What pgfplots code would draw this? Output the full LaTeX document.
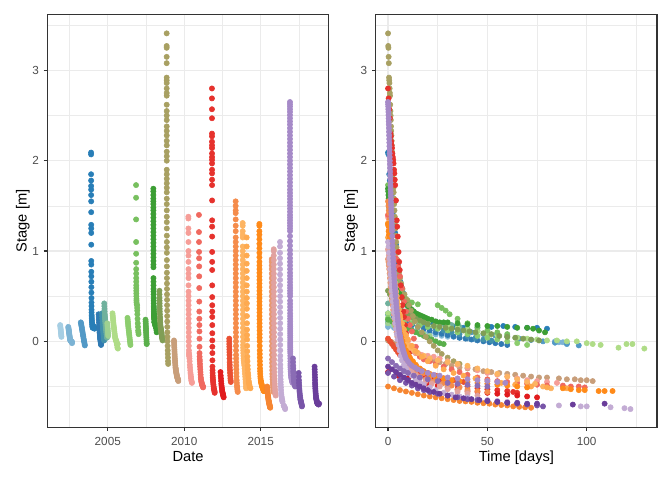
\documentclass[border=0pt]{standalone}
\usepackage{pgfplots}
\pgfplotsset{compat=1.18}
\usepackage{pgfplotstable}
\usepackage{fontspec}
\setmainfont{Liberation Sans}
\definecolor{gray20}{RGB}{51,51,51}
\definecolor{gray30}{RGB}{77,77,77}
\definecolor{gray92}{RGB}{235,235,235}
\definecolor{cA}{RGB}{166,206,227}
\definecolor{cB}{RGB}{124,179,212}
\definecolor{cC}{RGB}{82,153,198}
\definecolor{cD}{RGB}{40,126,183}
\definecolor{cE}{RGB}{48,122,178}
\definecolor{cF}{RGB}{66,145,170}
\definecolor{cG}{RGB}{112,177,157}
\definecolor{cH}{RGB}{158,209,144}
\definecolor{cI}{RGB}{175,220,135}
\definecolor{cJ}{RGB}{140,205,110}
\definecolor{cK}{RGB}{120,192,95}
\definecolor{cL}{RGB}{90,175,75}
\definecolor{cM}{RGB}{60,158,52}
\definecolor{cN}{RGB}{128,158,85}
\definecolor{cO}{RGB}{168,160,98}
\definecolor{cP}{RGB}{200,158,122}
\definecolor{cQ}{RGB}{246,158,152}
\definecolor{cR}{RGB}{240,105,95}
\definecolor{cS}{RGB}{230,50,45}
\definecolor{cT}{RGB}{225,28,30}
\definecolor{cU}{RGB}{234,80,50}
\definecolor{cV}{RGB}{245,140,75}
\definecolor{cW}{RGB}{253,180,98}
\definecolor{cWW}{RGB}{254,170,80}
\definecolor{cX}{RGB}{255,138,25}
\definecolor{cY}{RGB}{246,134,50}
\definecolor{cZ}{RGB}{232,152,112}
\definecolor{cAA}{RGB}{225,162,160}
\definecolor{cBB}{RGB}{195,172,212}
\definecolor{cCC}{RGB}{166,138,200}
\definecolor{cDD}{RGB}{138,108,180}
\definecolor{cEE}{RGB}{120,85,168}
\definecolor{cFF}{RGB}{106,61,154}
\pgfplotstableread{
t v
0 0.18
3 0.17
6 0.155
9 0.14
12 0.13
15 0.115
18 0.10
21 0.09
24 0.075
27 0.06
30 0.05
}\tA
\pgfplotstableread{
t v
0 0.16
3 0.15
6 0.14
9 0.13
12 0.12
15 0.11
18 0.10
21 0.09
24 0.08
27 0.07
30 0.06
33 0.05
36 0.04
40 0.03
44 0.02
48 0.01
52 0.005
84 0.0
86 -0.01
88 -0.01
90 -0.02
}\tB
\pgfplotstableread{
t v
0 0.21
6 0.195
12 0.18
18 0.165
24 0.15
30 0.13
36 0.115
42 0.10
48 0.08
54 0.065
60 0.05
66 0.03
72 0.015
78 0.0
84 -0.015
90 -0.03
96 -0.045
}\tC
\pgfplotstableread{
t v
0 2.09
0.2 2.07
0.6 1.85
0.9 1.78
1.2 1.72
1.5 1.68
1.8 1.62
2.1 1.55
2.5 1.43
3.0 1.29
3.3 1.25
3.6 1.20
4.0 1.07
4.6 0.89
4.9 0.85
5.3 0.77
5.7 0.72
6.2 0.66
6.8 0.60
7.5 0.54
8.3 0.48
9.2 0.43
10 0.39
11 0.35
12 0.32
13.5 0.29
15 0.27
17 0.25
19 0.23
22 0.21
25 0.19
29 0.17
33 0.16
38 0.15
45 0.15
52 0.16
58 0.17
64 0.16
70 0.15
75 0.15
80 0.14
}\tD
\pgfplotstableread{
t v
0 0.30
3 0.27
6 0.24
9 0.21
12 0.18
15 0.16
18 0.14
21 0.12
24 0.10
27 0.085
30 0.07
33 0.055
36 0.04
39 0.03
42 0.02
45 0.01
48 0.0
51 -0.01
54 -0.02
57 -0.03
60 -0.04
}\tE
\pgfplotstableread{
t v
0 0.31
4 0.28
8 0.25
12 0.22
16 0.19
20 0.16
24 0.14
28 0.12
32 0.10
36 0.08
40 0.06
44 0.04
48 0.02
52 0.01
}\tF
\pgfplotstableread{
t v
0 0.42
3 0.39
6 0.36
9 0.33
12 0.30
15 0.28
18 0.26
21 0.24
24 0.22
28 0.20
32 0.18
36 0.16
40 0.14
45 0.12
50 0.10
55 0.08
60 0.06
65 0.04
}\tG
\pgfplotstableread{
t v
0 0.20
3 0.18
6 0.16
9 0.14
12 0.12
15 0.10
18 0.08
21 0.06
}\tH
\pgfplotstableread{
t v
0 0.31
4 0.29
8 0.27
12 0.25
16 0.23
20 0.21
25 0.19
30 0.17
35 0.15
40 0.13
45 0.11
50 0.09
55 0.07
60 0.05
65 0.04
70 0.03
75 0.02
80 0.01
85 0.01
90 0.0
95 0.0
100 -0.02
103 -0.03
107 -0.04
116 -0.07
120 -0.03
123 -0.03
129 -0.08
}\tI
\pgfplotstableread{
t v
0 0.26
4 0.24
8 0.22
12 0.20
16 0.18
20 0.16
25 0.14
30 0.12
35 0.10
40 0.08
45 0.06
50 0.04
55 0.02
60 0.0
65 -0.02
70 -0.04
}\tJ
\pgfplotstableread{
t v
0 1.73
0.5 1.59
1 1.35
1.6 1.10
2 0.97
2.5 0.87
3 0.80
3.5 0.75
4 0.70
4.5 0.66
5 0.62
5.5 0.59
6 0.56
7 0.53
8 0.50
9 0.47
10 0.45
12 0.43
15 0.41
25 0.40
27 0.37
29 0.34
31 0.30
35 0.25
40 0.20
45 0.16
50 0.12
55 0.10
60 0.08
}\tK
\pgfplotstableread{
t v
0 0.24
2 0.22
4 0.20
6 0.18
8 0.16
10 0.14
12 0.12
14 0.10
16 0.08
18 0.06
20 0.04
22 0.02
24 0.0
26 -0.02
28 -0.03
}\tL
\pgfplotstableread{
t v
0 1.69
0.1 1.66
0.2 1.62
0.3 1.58
0.4 1.55
0.5 1.52
0.6 1.48
0.7 1.45
0.8 1.41
0.9 1.37
1.0 1.33
1.1 1.29
1.2 1.25
1.3 1.21
1.4 1.17
1.5 1.13
1.6 1.09
1.7 1.05
1.8 1.01
1.9 0.97
2.0 0.93
2.1 0.89
2.2 0.85
2.3 0.82
2.6 0.70
3 0.66
3.5 0.62
4 0.58
5 0.55
6 0.52
7 0.48
8 0.45
9 0.42
10 0.39
11 0.37
12 0.35
13 0.33
14 0.31
15 0.30
16 0.29
17 0.28
18 0.27
19 0.26
20 0.25
22 0.24
24 0.22
26 0.21
28 0.21
30 0.21
35 0.20
40 0.19
45 0.18
50 0.17
55 0.17
60 0.16
65 0.15
70 0.15
73 0.14
76 0.12
79 0.10
}\tM
\pgfplotstableread{
t v
0 0.56
1 0.52
2 0.48
3 0.45
4 0.42
5 0.39
6 0.36
8 0.33
10 0.30
12 0.27
14 0.25
16 0.23
18 0.21
20 0.19
23 0.17
26 0.16
29 0.15
32 0.14
35 0.13
38 0.12
41 0.11
44 0.10
48 0.09
52 0.08
56 0.06
60 0.05
64 0.04
68 0.03
72 0.02
76 0.01
}\tN
\pgfplotstableread{
t v
0 3.41
0.1 3.27
0.2 3.25
0.3 3.15
0.4 3.08
0.5 2.92
0.6 2.89
0.7 2.86
0.8 2.80
0.9 2.75
1.0 2.72
1.1 2.62
1.2 2.55
1.3 2.50
1.4 2.45
1.5 2.38
1.6 2.33
1.7 2.28
1.8 2.22
1.9 2.17
2.0 2.10
2.1 2.05
2.2 2.00
2.35 1.90
2.45 1.85
2.55 1.80
2.65 1.75
2.75 1.70
2.85 1.65
3.0 1.58
3.1 1.52
3.25 1.45
3.4 1.38
3.55 1.32
3.7 1.25
3.9 1.17
4.1 1.10
4.3 1.04
4.5 0.98
4.8 0.90
5.1 0.83
5.5 0.76
6.0 0.70
6.6 0.64
7.3 0.58
8.3 0.52
9.5 0.46
10.5 0.40
11.5 0.34
12.5 0.28
13.5 0.22
15 0.16
17 0.10
19 0.05
21 0.0
23 -0.05
25 -0.10
27 -0.14
30 -0.18
33 -0.22
36 -0.25
}\tO
\pgfplotstableread{
t v
0 0.01
2 -0.01
4 -0.03
6 -0.05
8 -0.07
10 -0.09
12 -0.11
14 -0.13
16 -0.15
18 -0.17
20 -0.19
23 -0.21
26 -0.23
29 -0.25
32 -0.27
36 -0.29
40 -0.30
44 -0.31
48 -0.33
52 -0.34
56 -0.35
60 -0.36
64 -0.37
68 -0.38
72 -0.39
76 -0.40
80 -0.40
86 -0.41
90 -0.42
94 -0.42
97 -0.43
100 -0.43
103 -0.44
}\tP
\pgfplotstableread{
t v
0 1.38
0.3 1.36
0.6 1.25
0.9 1.20
1.2 1.10
1.5 1.00
1.8 0.95
2.1 0.88
2.4 0.80
2.7 0.75
3.0 0.70
3.4 0.62
3.8 0.55
4.2 0.50
4.6 0.45
5.0 0.40
5.5 0.35
6.0 0.30
6.5 0.25
7.0 0.20
7.6 0.15
8.2 0.10
9.0 0.05
10 0.0
11 -0.05
12.5 -0.10
14 -0.13
17 -0.15
20 -0.16
23 -0.17
26 -0.19
30 -0.22
35 -0.26
40 -0.29
45 -0.32
50 -0.35
55 -0.37
60 -0.39
65 -0.41
70 -0.43
75 -0.44
80 -0.45
85 -0.46
}\tQ
\pgfplotstableread{
t v
0 1.40
1 1.21
2 1.10
3 0.99
4 0.92
5 0.83
6 0.72
7 0.59
8 0.44
9 0.33
10 0.25
11 0.18
12 0.11
13 0.03
14 -0.06
15 -0.13
16 -0.17
18 -0.20
21 -0.22
24 -0.25
28 -0.28
32 -0.31
36 -0.34
40 -0.37
45 -0.40
50 -0.42
55 -0.44
60 -0.45
65 -0.46
70 -0.47
75 -0.48
80 -0.49
88 -0.49
92 -0.50
96 -0.50
99 -0.51
}\tR
\pgfplotstableread{
t v
0 2.80
0.3 2.69
0.6 2.57
0.9 2.47
1.2 2.30
1.4 2.27
1.6 2.21
1.8 2.17
2.0 2.14
2.2 2.08
2.4 2.04
2.6 2.01
2.8 1.97
3.0 1.90
3.2 1.86
3.4 1.79
3.6 1.73
4.0 1.56
4.4 1.34
4.6 1.27
4.9 1.16
5.3 0.99
5.6 0.88
5.9 0.79
6.4 0.62
6.9 0.49
7.3 0.40
7.7 0.33
8.0 0.27
8.5 0.18
9.0 0.09
9.5 0.01
10 -0.06
10.5 -0.13
11 -0.21
12 -0.28
14 -0.32
16 -0.35
18 -0.38
20 -0.40
23 -0.42
26 -0.44
30 -0.46
35 -0.48
40 -0.50
45 -0.52
50 -0.53
55 -0.54
60 -0.55
63 -0.56
65 -0.57
}\tS
\pgfplotstableread{
t v
0 -0.34
5 -0.38
10 -0.41
15 -0.44
20 -0.47
25 -0.49
30 -0.51
35 -0.53
40 -0.55
45 -0.56
50 -0.57
55 -0.58
60 -0.59
65 -0.60
70 -0.61
75 -0.62
}\tT
\pgfplotstableread{
t v
0 0.03
1 0.0
2 -0.03
3 -0.06
4 -0.09
5 -0.12
6 -0.15
8 -0.19
10 -0.23
12 -0.26
14 -0.29
17 -0.32
20 -0.35
24 -0.38
28 -0.41
33 -0.43
38 -0.45
}\tU
\pgfplotstableread{
t v
0 1.55
0.2 1.50
0.4 1.45
0.6 1.42
0.8 1.35
1.0 1.28
1.2 1.22
1.4 1.15
1.6 1.10
1.8 1.05
2.0 1.00
2.2 0.95
2.4 0.90
2.6 0.85
2.8 0.80
3.0 0.75
3.2 0.70
3.4 0.65
3.6 0.60
3.8 0.55
4.0 0.50
4.3 0.45
4.6 0.40
4.9 0.35
5.2 0.30
5.5 0.25
5.9 0.20
6.3 0.15
6.7 0.10
7.2 0.05
7.7 0.0
8.3 -0.05
9 -0.10
10 -0.15
11 -0.19
12.5 -0.23
14 -0.27
16 -0.31
18 -0.35
21 -0.39
24 -0.43
28 -0.46
32 -0.49
36 -0.51
40 -0.53
45 -0.55
50 -0.56
}\tV
\pgfplotstableread{
t v
0 1.31
0.25 1.28
0.5 1.22
0.75 1.18
1.0 1.15
1.25 1.05
1.5 1.00
1.75 0.95
2.0 0.90
2.3 0.85
2.6 0.80
2.9 0.75
3.2 0.70
3.5 0.65
3.8 0.60
4.1 0.55
4.4 0.50
4.7 0.45
5.0 0.40
5.4 0.35
5.8 0.30
6.2 0.25
6.7 0.20
7.2 0.15
7.8 0.10
8.4 0.05
9.0 0.0
10 -0.04
11 -0.07
13 -0.10
15 -0.13
18 -0.16
21 -0.19
25 -0.21
30 -0.23
35 -0.25
40 -0.27
45 -0.30
50 -0.33
55 -0.36
60 -0.39
65 -0.42
70 -0.45
74 -0.47
78 -0.50
82 -0.52
}\tW
\pgfplotstableread{
t v
0 1.15
0.5 1.05
1 0.95
1.5 0.86
2 0.78
2.5 0.70
3 0.62
3.5 0.55
4 0.48
4.5 0.42
5 0.36
6 0.28
7 0.20
8 0.13
9 0.07
10 0.02
12 -0.05
14 -0.11
17 -0.17
20 -0.22
24 -0.27
28 -0.31
33 -0.35
38 -0.38
44 -0.41
50 -0.44
57 -0.46
64 -0.48
72 -0.50
80 -0.51
90 -0.52
}\tWW
\pgfplotstableread{
t v
0 1.30
0.15 1.28
0.3 1.22
0.45 1.18
0.6 1.13
0.75 1.08
0.9 1.03
1.05 0.98
1.2 0.93
1.35 0.88
1.5 0.84
1.65 0.80
1.8 0.76
1.95 0.72
2.1 0.68
2.25 0.64
2.4 0.60
2.6 0.56
2.8 0.52
3.0 0.48
3.2 0.44
3.4 0.40
3.7 0.36
4.0 0.32
4.3 0.28
4.6 0.24
5.0 0.20
5.4 0.16
5.8 0.12
6.3 0.08
6.8 0.04
7.3 0.0
8 -0.05
9 -0.10
10 -0.14
11 -0.18
12.5 -0.22
14 -0.26
16 -0.30
18 -0.33
21 -0.36
24 -0.39
28 -0.41
32 -0.43
36 -0.44
40 -0.45
45 -0.46
50 -0.47
55 -0.48
60 -0.49
65 -0.50
70 -0.51
88 -0.52
92 -0.53
96 -0.54
99 -0.54
106 -0.55
109 -0.55
113 -0.55
}\tX
\pgfplotstableread{
t v
0 -0.50
3 -0.52
6 -0.54
9 -0.555
12 -0.57
15 -0.585
18 -0.60
21 -0.61
24 -0.62
27 -0.63
30 -0.64
33 -0.65
36 -0.66
39 -0.665
42 -0.67
45 -0.68
48 -0.685
51 -0.69
54 -0.70
57 -0.705
60 -0.71
63 -0.72
66 -0.725
69 -0.73
72 -0.735
}\tY
\pgfplotstableread{
t v
0 0.91
0.2 0.88
0.4 0.84
0.6 0.80
0.8 0.75
1.0 0.70
1.2 0.65
1.4 0.60
1.6 0.55
1.8 0.50
2.0 0.45
2.3 0.40
2.6 0.35
2.9 0.30
3.2 0.25
3.5 0.20
3.9 0.15
4.3 0.10
4.7 0.05
5.2 0.0
5.7 -0.05
6.3 -0.10
7 -0.15
8 -0.20
9 -0.24
10.5 -0.28
12 -0.32
14 -0.36
16 -0.39
19 -0.42
22 -0.45
26 -0.48
30 -0.51
35 -0.54
40 -0.56
}\tZ
\pgfplotstableread{
t v
0 1.02
0.2 1.00
0.4 0.95
0.6 0.90
0.8 0.85
1.0 0.80
1.2 0.75
1.4 0.70
1.6 0.65
1.8 0.60
2.0 0.55
2.2 0.50
2.5 0.45
2.8 0.40
3.1 0.35
3.4 0.30
3.7 0.25
4.0 0.20
4.4 0.15
4.8 0.10
5.2 0.05
5.7 0.0
6.2 -0.05
6.8 -0.10
7.5 -0.15
8.3 -0.20
9.2 -0.25
10.5 -0.30
12 -0.34
14 -0.38
16 -0.41
19 -0.44
22 -0.47
26 -0.50
30 -0.53
35 -0.56
40 -0.58
45 -0.60
}\tAA
\pgfplotstableread{
t v
0 1.10
0.3 1.05
0.5 0.98
0.7 0.92
0.9 0.86
1.1 0.80
1.3 0.74
1.5 0.68
1.7 0.62
1.9 0.56
2.1 0.50
2.4 0.44
2.7 0.38
3.0 0.32
3.3 0.26
3.6 0.20
4.0 0.14
4.4 0.08
4.8 0.02
5.3 -0.04
5.8 -0.10
6.4 -0.16
7 -0.21
8 -0.26
9 -0.30
10 -0.34
12 -0.38
14 -0.42
16 -0.45
18 -0.48
21 -0.51
24 -0.54
28 -0.57
32 -0.59
36 -0.61
40 -0.62
45 -0.64
50 -0.65
55 -0.66
60 -0.67
86 -0.71
97 -0.72
100 -0.72
112 -0.73
119 -0.74
122 -0.75
}\tBB
\pgfplotstableread{
t v
0 2.65
0.05 2.625
0.1 2.60
0.15 2.57
0.2 2.54
0.25 2.505
0.3 2.47
0.35 2.435
0.4 2.40
0.45 2.36
0.5 2.32
0.55 2.28
0.6 2.24
0.65 2.20
0.7 2.16
0.75 2.12
0.8 2.08
0.85 2.04
0.9 2.00
0.95 1.96
1.0 1.92
1.05 1.88
1.1 1.84
1.15 1.80
1.2 1.76
1.25 1.72
1.3 1.68
1.35 1.645
1.4 1.61
1.45 1.575
1.5 1.54
1.55 1.505
1.6 1.47
1.65 1.435
1.7 1.40
1.75 1.37
1.8 1.34
1.85 1.31
1.9 1.28
1.95 1.25
2.0 1.22
2.1 1.165
2.2 1.11
2.3 1.06
2.4 1.01
2.5 0.965
2.6 0.92
2.7 0.88
2.8 0.84
2.9 0.80
3.0 0.76
3.1 0.725
3.2 0.69
3.3 0.655
3.4 0.62
3.5 0.59
3.6 0.56
3.7 0.53
3.8 0.50
4.0 0.45
4.15 0.415
4.3 0.38
4.45 0.345
4.6 0.31
4.75 0.28
4.9 0.25
5.05 0.22
5.2 0.19
5.35 0.165
5.5 0.14
5.65 0.115
5.8 0.09
6.0 0.065
6.2 0.04
6.4 0.015
6.6 -0.01
6.8 -0.03
7.0 -0.05
7.25 -0.07
7.5 -0.09
7.75 -0.11
8.0 -0.13
8.5 -0.16
9 -0.19
10 -0.22
11 -0.25
12 -0.27
13.5 -0.29
15 -0.31
17 -0.33
20 -0.35
23 -0.37
26 -0.38
30 -0.40
35 -0.41
40 -0.42
45 -0.43
50 -0.44
55 -0.45
59 -0.46
}\tCC
\pgfplotstableread{
t v
0 -0.19
2 -0.23
4 -0.27
6 -0.30
8 -0.33
10 -0.35
13 -0.38
16 -0.40
20 -0.42
25 -0.44
30 -0.46
35 -0.47
40 -0.48
45 -0.49
50 -0.50
}\tDD
\pgfplotstableread{
t v
0 -0.35
3 -0.39
6 -0.43
9 -0.46
12 -0.49
15 -0.52
18 -0.54
21 -0.56
25 -0.58
30 -0.60
35 -0.62
40 -0.64
45 -0.65
50 -0.66
55 -0.67
60 -0.68
65 -0.69
70 -0.70
75 -0.71
78 -0.72
}\tEE
\pgfplotstableread{
t v
0 -0.28
2 -0.31
4 -0.34
6 -0.37
8 -0.40
10 -0.43
12 -0.46
14 -0.48
16 -0.50
18 -0.52
20 -0.54
23 -0.56
26 -0.58
30 -0.60
34 -0.62
38 -0.63
42 -0.64
46 -0.65
50 -0.66
55 -0.67
60 -0.68
65 -0.68
70 -0.69
75 -0.69
93 -0.70
109 -0.69
}\tFF
\newcommand{\segL}[3]{\addplot[only marks, mark=*, mark size=1.98pt, color=#3, mark options={line width=0.4pt}] table[x expr={#2+\thisrow{t}/365.25}, y=v]{#1};}
\newcommand{\segR}[2]{\addplot[only marks, mark=*, mark size=1.98pt, color=#2, mark options={line width=0.4pt}] table[x=t, y=v]{#1};}
\pgfplotsset{
  panel/.style={
    scale only axis, width=211pt, height=309.5pt,
    ymin=-0.952, ymax=3.617,
    ytick={0,1,2,3}, minor ytick={-0.5,0.5,1.5,2.5,3.5},
    grid=both,
    major grid style={gray92, line width=1.07pt},
    minor grid style={gray92, line width=0.53pt},
    axis line style={gray20, line width=1.07pt},
    tick align=outside, tick pos=left,
    major tick length=2.74pt, minor tick length=0pt,
    major tick style={gray20, line width=1.07pt},
    tick label style={font=\fontsize{8.8}{10}\selectfont, text=gray30},
    /pgf/number format/assume math mode=true,
    xticklabel style={anchor=base, inner sep=0pt, yshift=-10.56pt},
    yticklabel style={anchor=east, inner sep=0pt, xshift=-3.46pt},
    every axis x label/.style={at={(axis description cs:0.5,0)}, anchor=base, yshift=-25.8pt, font=\fontsize{11}{13}\selectfont},
    every axis y label/.style={at={(axis description cs:-0.0739,0.5)}, rotate=90, anchor=base, font=\fontsize{11}{13}\selectfont},
    ylabel={Stage [m]},
  }
}
\begin{document}
\begin{tikzpicture}
\useasboundingbox (0,0) rectangle (504pt,360pt);
\begin{axis}[panel, at={(35.5pt,39.5pt)}, anchor=south west,
  xmin=1.05, xmax=19.44, xtick={5,10,15}, xticklabels={2005,2010,2015},
  minor xtick={2.5,7.5,12.5,17.5}, xlabel={Date}]
\segL{\tA}{1.89}{cA}
\segL{\tB}{2.42}{cB}
\segL{\tC}{3.24}{cC}
\segL{\tD}{3.91}{cD}
\segL{\tE}{4.40}{cE}
\segL{\tF}{4.62}{cF}
\segL{\tG}{4.77}{cG}
\segL{\tH}{4.97}{cH}
\segL{\tI}{5.31}{cI}
\segL{\tJ}{6.29}{cJ}
\segL{\tK}{6.85}{cK}
\segL{\tL}{7.47}{cL}
\segL{\tM}{7.98}{cM}
\segL{\tN}{8.38}{cN}
\segL{\tO}{8.85}{cO}
\segL{\tP}{9.33}{cP}
\segL{\tQ}{10.27}{cQ}
\segL{\tR}{10.96}{cR}
\segL{\tS}{11.81}{cS}
\segL{\tT}{12.37}{cT}
\segL{\tU}{12.94}{cU}
\segL{\tV}{13.36}{cV}
\segL{\tW}{13.82}{cW}
\segL{\tWW}{14.08}{cWW}
\segL{\tX}{14.91}{cX}
\segL{\tY}{15.42}{cY}
\segL{\tZ}{15.72}{cZ}
\segL{\tAA}{15.85}{cAA}
\segL{\tBB}{16.26}{cBB}
\segL{\tCC}{16.91}{cCC}
\segL{\tDD}{17.11}{cDD}
\segL{\tEE}{17.48}{cEE}
\segL{\tFF}{18.52}{cFF}
\end{axis}
\begin{axis}[panel, at={(281.8pt,39.5pt)}, anchor=south west,
  xmin=-6.19, xmax=135.4, xtick={0,50,100},
  minor xtick={25,75,125}, xlabel={Time [days]}]
\segR{\tA}{cA}
\segR{\tB}{cB}
\segR{\tC}{cC}
\segR{\tD}{cD}
\segR{\tE}{cE}
\segR{\tF}{cF}
\segR{\tG}{cG}
\segR{\tH}{cH}
\segR{\tI}{cI}
\segR{\tJ}{cJ}
\segR{\tK}{cK}
\segR{\tL}{cL}
\segR{\tM}{cM}
\segR{\tN}{cN}
\segR{\tO}{cO}
\segR{\tP}{cP}
\segR{\tQ}{cQ}
\segR{\tR}{cR}
\segR{\tS}{cS}
\segR{\tT}{cT}
\segR{\tU}{cU}
\segR{\tV}{cV}
\segR{\tW}{cW}
\segR{\tWW}{cWW}
\segR{\tX}{cX}
\segR{\tY}{cY}
\segR{\tZ}{cZ}
\segR{\tAA}{cAA}
\segR{\tBB}{cBB}
\segR{\tCC}{cCC}
\segR{\tDD}{cDD}
\segR{\tEE}{cEE}
\segR{\tFF}{cFF}
\end{axis}
\end{tikzpicture}
\end{document}
